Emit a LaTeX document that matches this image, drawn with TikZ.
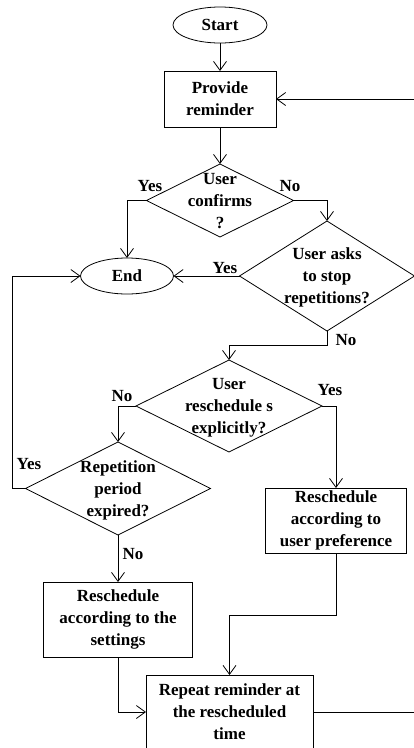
\documentclass[tikz,border=0pt]{standalone}
\usepackage{fontspec}
\setmainfont{Liberation Serif}
\usetikzlibrary{shapes.geometric,arrows.meta}
\begin{document}
\begin{tikzpicture}[x=1pt,y=-1pt,
  every node/.style={font=\fontsize{17}{22}\selectfont\bfseries},
  base/.style={draw,line width=0.8pt,inner sep=0pt,outer sep=0pt},
  term/.style={base,ellipse},
  proc/.style={base,rectangle,align=center},
  dec/.style={base,diamond},
  dtext/.style={align=center,inner sep=0pt},
  lab/.style={inner sep=0pt},
  conn/.style={line width=0.8pt,-{Straight Barb[length=9pt,width=13pt]}},
]
\useasboundingbox (0,0) rectangle (414,748);
\clip (0,0) rectangle (414,748);
% nodes
\node[term,minimum width=94pt,minimum height=36pt] (start) at (220,25) {Start};
\node[proc,minimum width=112pt,minimum height=56pt] (prov) at (220,99) {Provide\\reminder};
\node[dec,minimum width=147pt,minimum height=73pt] (d1) at (220,200.5) {};
\node[dtext] at (220,201) {User\\confirms\\?};
\node[term,minimum width=93pt,minimum height=36pt] (end) at (127,276) {End};
\node[dec,minimum width=175pt,minimum height=110pt] (d2) at (327,276) {};
\node[dtext] at (327,277) {User asks\\to stop\\repetitions?};
\node[dec,minimum width=186pt,minimum height=92pt] (d3) at (229,406) {};
\node[dtext] at (229,408) {User\\reschedule s\\explicitly?};
\node[dec,minimum width=185pt,minimum height=93pt] (d4) at (118,488.5) {};
\node[dtext] at (118,490) {Repetition\\period\\expired?};
\node[proc,minimum width=149pt,minimum height=75pt] (set) at (118,619.5) {Reschedule\\according to the\\settings};
\node[proc,minimum width=141pt,minimum height=65pt] (pref) at (336,520.5) {Reschedule\\according to\\user preference};
\node[proc,minimum width=167pt,minimum height=74pt] (rep) at (229.5,712) {Repeat reminder at\\the rescheduled\\time};
\coordinate (loop) at (418,712);
% labels
\node[lab] (l1) at (150,186) {Yes};
\node[lab] (l2) at (290,186) {No};
\node[lab] (l3) at (225,268) {Yes};
\node[lab] (l4) at (346,340) {No};
\node[lab] (l5) at (122,396) {No};
\node[lab] (l6) at (330,390) {Yes};
\node[lab] (l7) at (29,464) {Yes};
\node[lab] (l8) at (133,554) {No};
% connectors
\draw[conn] (start) -- (prov);
\draw[conn] (prov) -- (d1);
\draw[conn] (d1.west) -| (end.north);
\draw[conn] (d1.east) -| (d2.north);
\draw[conn] (d2.west) -- (end.east);
\draw[conn] (d2.south) -- ++(0,14) -| (d3.north);
\draw[conn] (d3.west) -| (d4.north);
\draw[conn] (d3.east) -| (pref.north);
\draw[conn] (d4.west) -- ++(-13,0) |- (end.west);
\draw[conn] (d4.south) -- (set.north);
\draw[conn] (pref.south) -- ++(0,62) -| (rep.north);
\draw[conn] (set.south) |- (rep.west);
\draw[conn] (rep.east) -- (loop) |- (prov.east);
\end{tikzpicture}
\end{document}
